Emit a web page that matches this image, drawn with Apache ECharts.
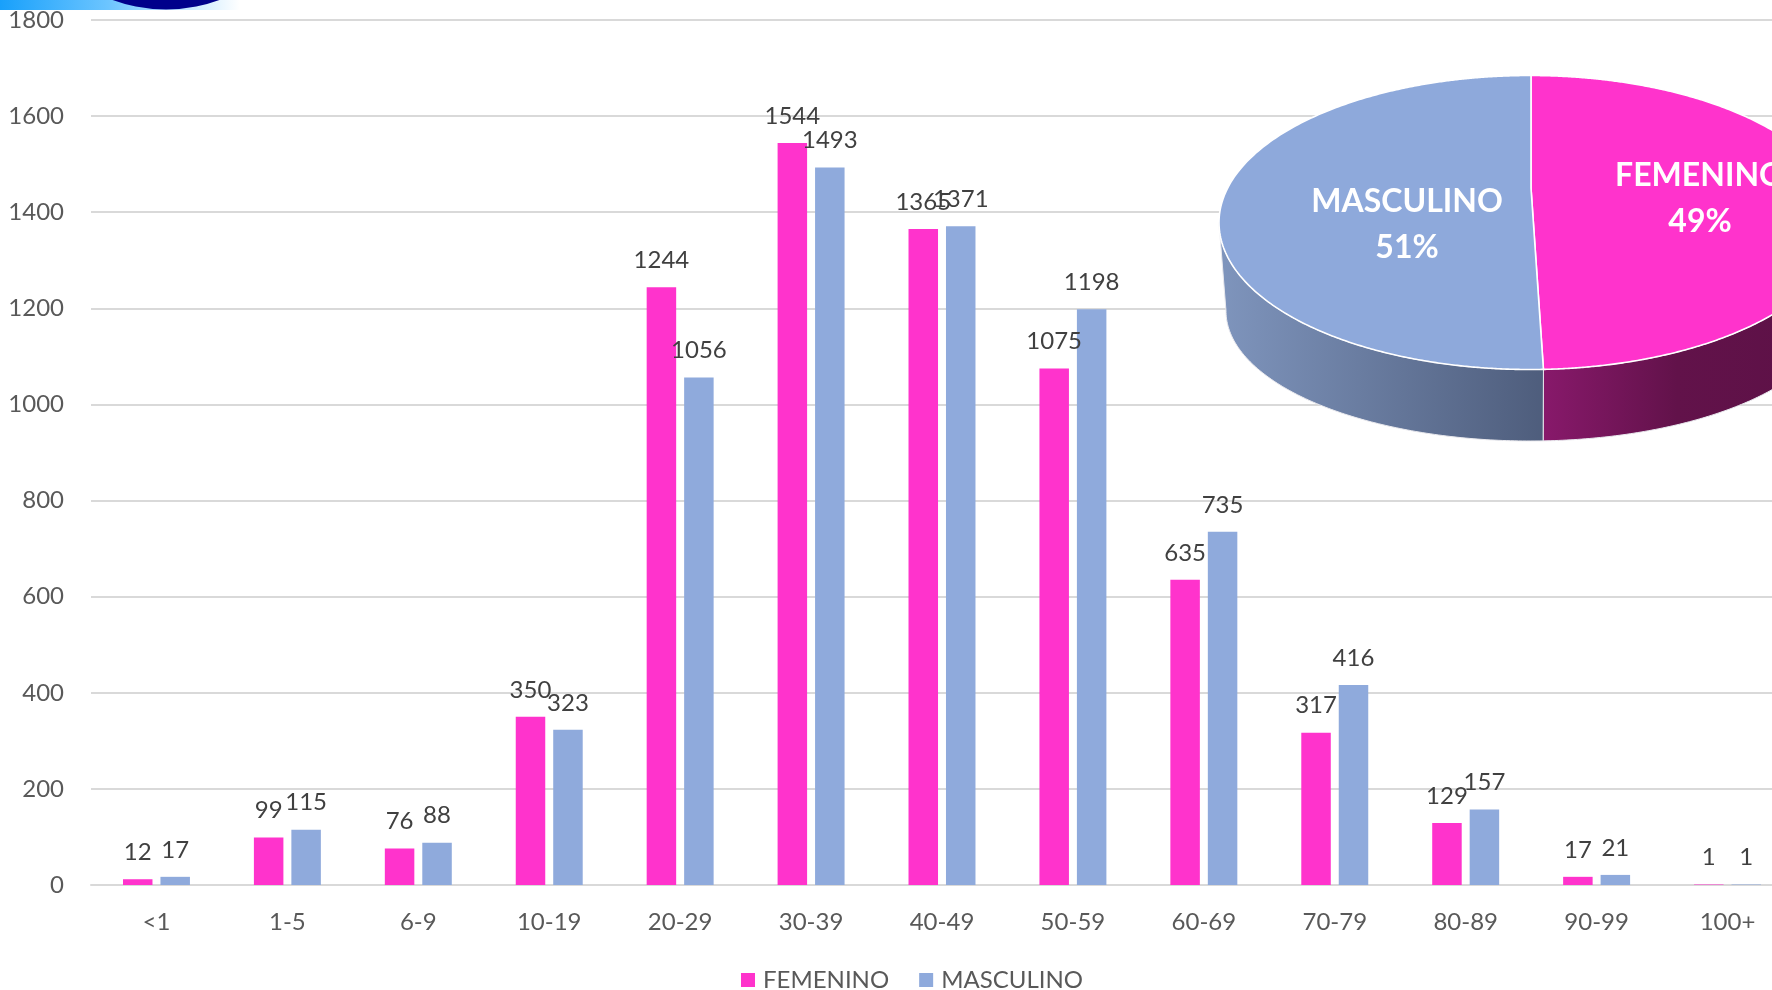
<!DOCTYPE html>
<html>
<head>
<meta charset="utf-8">
<title>Grupos de edad por sexo</title>
<style>
html,body{margin:0;padding:0;background:#fff;overflow:hidden;}
#firstchart{width:1772px;height:990px;}
</style>
<script src="https://cdn.jsdelivr.net/npm/echarts@6/dist/echarts.min.js"></script>
</head>
<body>
<div id="firstchart"></div>
<script>
// datos
var categories = ['<1','1-5','6-9','10-19','20-29','30-39','40-49','50-59','60-69','70-79','80-89','90-99','100+'];
var femenino = [12,99,76,350,1244,1544,1365,1075,635,317,129,17,1];
var masculino = [17,115,88,323,1056,1493,1371,1198,735,416,157,21,1];
var pieNames = ['FEMENINO','MASCULINO'];
var pieValues = [49,51];

var FONT = 'Lato, "Noto Sans", sans-serif';
var PINK = '#ff33cc';
var BLUE = '#8faadc';

// pastel 3D: elipse superior, elipse inferior y vertice en perspectiva
var topE = {cx:1530, cy:222.5, a:311, b:147};
var lowE = {cx:1530, cy:311, a:304, b:130};
var apex = {x:1531, y:188};

function onEllipse(e, phi) {
    return [e.cx + e.a * Math.sin(phi), e.cy - e.b * Math.cos(phi)];
}
// punto del borde para el angulo theta del pastel (rayo desde el vertice)
function rimPoint(theta) {
    var dx = Math.sin(theta) * 1.09, dy = -Math.cos(theta);
    var ox = (apex.x - topE.cx) / topE.a, oy = (apex.y - topE.cy) / topE.b;
    var ux = dx / topE.a, uy = dy / topE.b;
    var A = ux * ux + uy * uy, B = 2 * (ox * ux + oy * uy), C = ox * ox + oy * oy - 1;
    var t = (-B + Math.sqrt(B * B - 4 * A * C)) / (2 * A);
    return [apex.x + t * dx, apex.y + t * dy];
}
function rimPhi(theta) {
    var p = rimPoint(theta);
    var phi = Math.atan2((p[0] - topE.cx) / topE.a, -(p[1] - topE.cy) / topE.b);
    return phi < 0 ? phi + Math.PI * 2 : phi;
}

var pieStyles = [
    {fill:PINK, wall:[[0,'#88196b'],[0.45,'#62124a'],[1,'#5c1146']], from:Math.PI/2, label:[1700,198.5]},
    {fill:'#8ea9db', wall:[[0,'#7f95bd'],[1,'#4e5d7c']], from:Math.PI*1.5, label:[1407,225]}
];

function renderPie(params, api) {
    var i = params.dataIndex;
    var total = pieValues[0] + pieValues[1];
    var start = 0;
    for (var k = 0; k < i; k++) start += pieValues[k] / total * Math.PI * 2;
    var end = start + pieValues[i] / total * Math.PI * 2;
    var st = pieStyles[i];

    // cara superior
    var face = [[apex.x, apex.y]];
    for (var n = 0; n <= 360; n++) {
        face.push(rimPoint(start + (end - start) * n / 360));
    }
    // pared lateral
    var split = rimPhi(pieValues[0] / total * Math.PI * 2);
    var wall = [], low = [];
    for (var m = 0; m <= 120; m++) {
        var phi = st.from + (split - st.from) * m / 120;
        wall.push(onEllipse(topE, phi));
        low.unshift(onEllipse(lowE, phi));
    }
    wall = wall.concat(low);

    return {
        type:'group',
        children:[
            {type:'polygon', shape:{points:wall}, style:{
                fill:{type:'linear',x:0,y:0,x2:1,y2:0,colorStops:st.wall.map(function(s){return {offset:s[0],color:s[1]};})},
                stroke:'#e9e9ee', lineWidth:1}},
            {type:'polygon', shape:{points:face}, style:{fill:st.fill, stroke:'#ffffff', lineWidth:1.6}},
            {type:'text', style:{
                x:st.label[0], y:st.label[1], text:pieNames[i] + '\n' + pieValues[i] + '%',
                align:'center', verticalAlign:'middle', fill:'#ffffff',
                font:'bold 32px ' + FONT, lineHeight:46}}
        ]
    };
}

function barSeries(name, data, color) {
    return {
        name:name, type:'bar', data:data, barWidth:29.5, barGap:'27%',
        itemStyle:{color:color},
        label:{show:true, position:'top', distance:15, color:'#404040', fontSize:24, fontFamily:FONT}
    };
}

var myChart = echarts.init(document.getElementById('firstchart'));
var option = {
    animation:false,
    backgroundColor:'#ffffff',
    textStyle:{fontFamily:FONT},
    // el grafico original sale por la derecha del lienzo
    grid:{left:91, top:20, width:1702, height:865, outerBoundsMode:'none'},
    legend:{
        left:736, top:963, itemWidth:14, itemHeight:14, itemGap:30, icon:'rect',
        data:['FEMENINO','MASCULINO'],
        textStyle:{color:'#595959', fontSize:24, fontFamily:FONT, padding:[0,0,0,3]}
    },
    xAxis:{
        type:'category', data:categories,
        axisTick:{show:false},
        axisLine:{lineStyle:{color:'#d9d9d9', width:2}},
        axisLabel:{color:'#595959', fontSize:24, fontFamily:FONT, margin:25, interval:0}
    },
    yAxis:{
        type:'value', min:0, max:1800, interval:200,
        axisLine:{show:false}, axisTick:{show:false},
        splitLine:{lineStyle:{color:'#d9d9d9', width:2}},
        axisLabel:{color:'#595959', fontSize:24, fontFamily:FONT, margin:27, formatter:function(v){return String(v);}}
    },
    graphic:[
        {type:'rect', z:50, silent:true, shape:{x:0,y:0,width:240,height:10},
            style:{fill:{type:'linear',x:0,y:0,x2:1,y2:0,colorStops:[{offset:0,color:'#18a0fb'},{offset:0.45,color:'#6cc5ff'},{offset:1,color:'#ffffff'}]}}},
        {type:'circle', z:51, silent:true, shape:{cx:166,cy:-145.5,r:155}, style:{fill:'#00008b'}}
    ],
    series:[
        barSeries('FEMENINO', femenino, PINK),
        barSeries('MASCULINO', masculino, BLUE),
        {
            name:'Sexo', type:'custom', coordinateSystem:'none', z:10,
            renderItem:renderPie,
            data:pieValues.map(function(v,i){return {name:pieNames[i], value:v};})
        }
    ]
};
myChart.setOption(option);
</script>
</body>
</html>
